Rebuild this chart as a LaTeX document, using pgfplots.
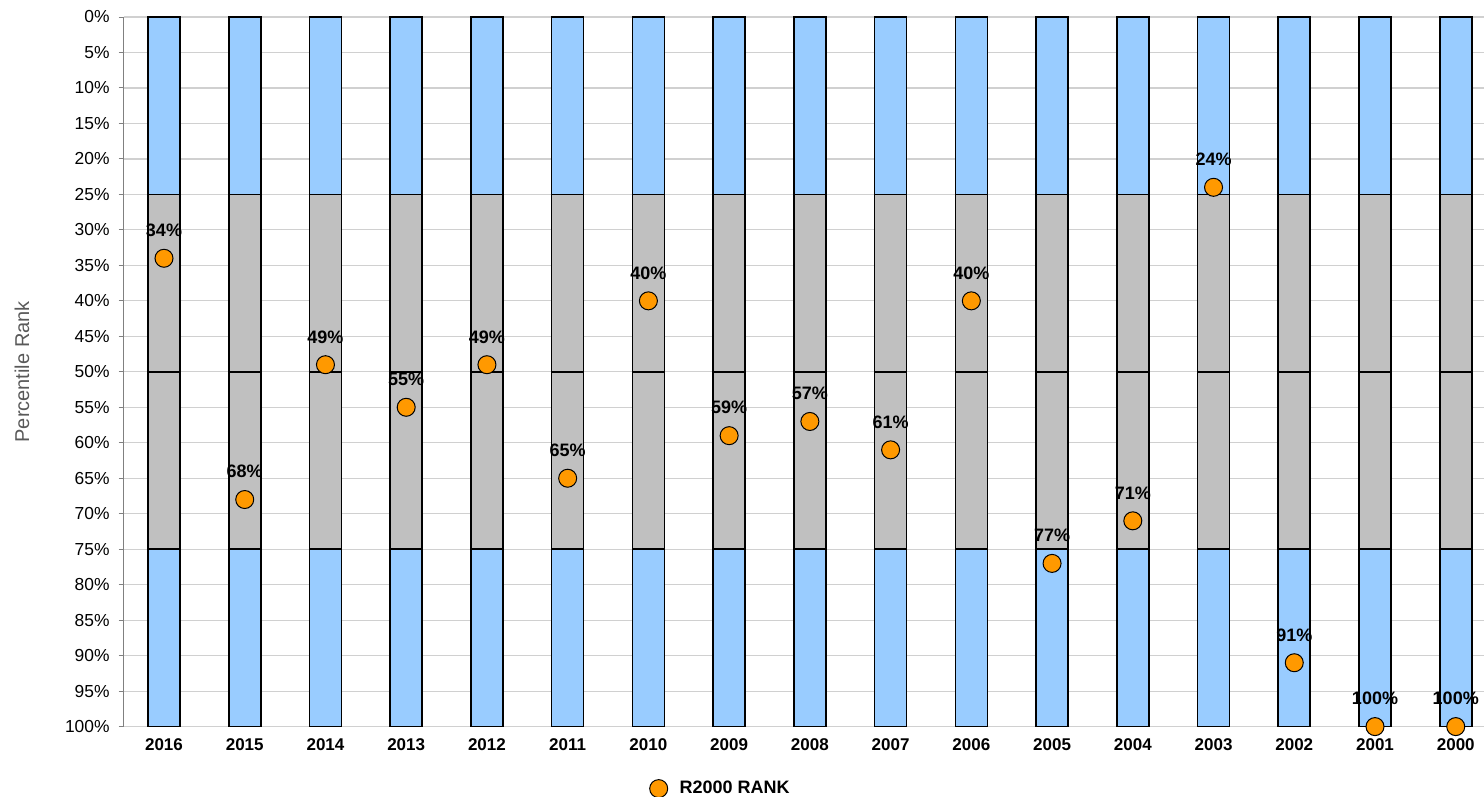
\documentclass[border=0pt]{standalone}
\usepackage{fontspec}
\setmainfont{Liberation Sans}
\usepackage{pgfplots}
\usepackage{pgfplotstable}
\pgfplotsset{compat=1.18}

\definecolor{barblue}{HTML}{99CCFF}
\definecolor{bargray}{HTML}{C0C0C0}
\definecolor{rankorange}{HTML}{FF9900}
\definecolor{gridgray}{HTML}{D0D0D0}
\definecolor{labelgray}{HTML}{595959}

% yearly rank, 2016 first; x is the slot on the axis
\pgfplotstableread{
x year rank q1 q2 q3 q4
0  2016 34  25 50 75 100
1  2015 68  25 50 75 100
2  2014 49  25 50 75 100
3  2013 55  25 50 75 100
4  2012 49  25 50 75 100
5  2011 65  25 50 75 100
6  2010 40  25 50 75 100
7  2009 59  25 50 75 100
8  2008 57  25 50 75 100
9  2007 61  25 50 75 100
10 2006 40  25 50 75 100
11 2005 77  25 50 75 100
12 2004 71  25 50 75 100
13 2003 24  25 50 75 100
14 2002 91  25 50 75 100
15 2001 100 25 50 75 100
16 2000 100 25 50 75 100
}\ranks

\begin{document}
\begin{tikzpicture}
\begin{axis}[
  at={(0,0)}, anchor=south west,
  scale only axis, width=680pt, height=354.7pt,
  xmin=-0.5, xmax=16.35, ymin=0, ymax=100, y dir=reverse,
  axis line style={draw=none},
  xtick={0,...,16},
  xticklabels={2016,2015,2014,2013,2012,2011,2010,2009,2008,2007,2006,2005,2004,2003,2002,2001,2000},
  xtick style={draw=none},
  xticklabel style={font=\bfseries\fontsize{8.5}{10}\selectfont},
  ytick={0,5,...,100},
  ytick pos=left,
  yticklabel={\pgfmathprintnumber{\tick}\%},
  /pgf/number format/assume math mode=true,
  yticklabel style={font=\fontsize{8.7}{10}\selectfont, xshift=-1pt},
  tick align=outside, major tick length=2.5pt,
  ytick style={draw=gray, line width=0.5pt},
  ymajorgrids, grid style={gridgray, line width=0.6pt},
  ylabel={Percentile Rank},
  every axis y label/.style={at={(rel axis cs:0,0.5)}, xshift=-50.8pt, rotate=90, anchor=center,
    font=\fontsize{10}{12}\selectfont, text=labelgray},
  clip=false,
  legend style={draw=none, fill=none, at={(rel axis cs:0.382,-0.0874)}, anchor=west,
    font=\bfseries\fontsize{9}{11}\selectfont},
]
% quartile bands, drawn from the bottom band up so each edge stays visible
\addplot[ybar, bar width=16pt, bar shift=0pt, fill=barblue, draw=black, line width=0.8pt, forget plot]
  table[x=x, y=q4] {\ranks};
\addplot[ybar, bar width=16pt, bar shift=0pt, fill=bargray, draw=black, line width=0.8pt, forget plot]
  table[x=x, y=q3] {\ranks};
\addplot[ybar, bar width=16pt, bar shift=0pt, fill=bargray, draw=black, line width=0.8pt, forget plot]
  table[x=x, y=q2] {\ranks};
\addplot[ybar, bar width=16pt, bar shift=0pt, fill=barblue, draw=black, line width=0.8pt, forget plot]
  table[x=x, y=q1] {\ranks};
% rank markers with their labels
\addplot[only marks, mark=*, mark size=4.5pt,
  mark options={fill=rankorange, draw=black, line width=0.5pt},
  point meta=explicit,
  nodes near coords={\pgfmathprintnumber{\pgfplotspointmeta}\%},
  nodes near coords align={above},
  every node near coord/.append style={font=\bfseries\fontsize{9}{10}\selectfont,
    anchor=south, inner sep=0pt, yshift=10.5pt, text=black}]
  table[x=x, y=rank, meta=rank] {\ranks};
\addlegendentry{\hspace{4pt}R2000 RANK}
\draw[gray, line width=0.6pt] (rel axis cs:0,0) -- (rel axis cs:0,1);
\end{axis}
\pgfresetboundingbox
\path[use as bounding box] (-61.8pt,-35pt) rectangle (680pt,363.2pt);
\end{tikzpicture}
\end{document}
